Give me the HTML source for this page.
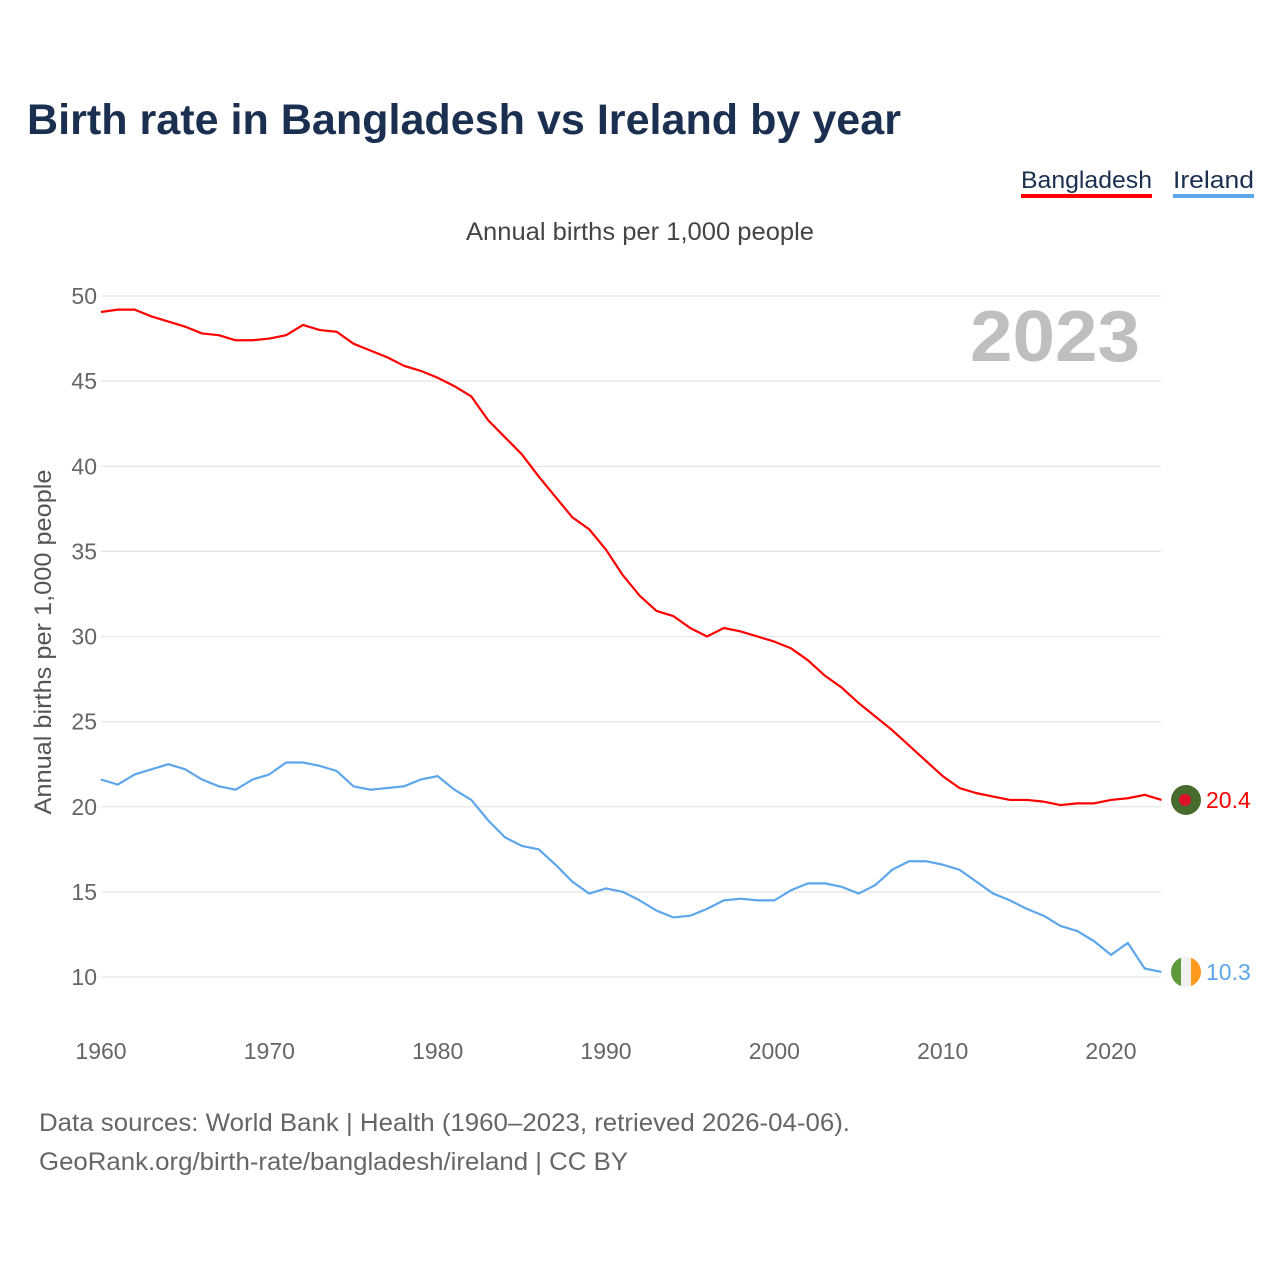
<!DOCTYPE html>
<html><head><meta charset="utf-8">
<style>
body{margin:0;background:#fff;}
svg text{font-family:"Liberation Sans",sans-serif;}
</style></head>
<body>
<svg id="chart" width="1280" height="1280" xmlns="http://www.w3.org/2000/svg">
<rect width="1280" height="1280" fill="#fff"/>
<text x="27" y="134" font-size="43" font-weight="bold" fill="#1b3050" textLength="874" lengthAdjust="spacingAndGlyphs">Birth rate in Bangladesh vs Ireland by year</text>
<g>
<text x="1021" y="188" font-size="24" fill="#1b3050" textLength="131" lengthAdjust="spacingAndGlyphs">Bangladesh</text>
<rect x="1021" y="194" width="131" height="4" fill="#ff0000"/>
<text x="1173" y="188" font-size="24" fill="#1b3050" textLength="81" lengthAdjust="spacingAndGlyphs">Ireland</text>
<rect x="1173" y="194" width="81" height="4" fill="#5da6ea"/>
</g>
<text x="640" y="240" font-size="25" fill="#444" text-anchor="middle" textLength="348" lengthAdjust="spacingAndGlyphs">Annual births per 1,000 people</text>
<text x="1140" y="361" font-size="72" font-weight="bold" fill="#bfbfbf" text-anchor="end" textLength="170" lengthAdjust="spacingAndGlyphs">2023</text>
<text transform="translate(51,642) rotate(-90)" font-size="24" fill="#555" text-anchor="middle" textLength="345" lengthAdjust="spacingAndGlyphs">Annual births per 1,000 people</text>
<g id="grid"></g><g id="series"></g><g id="labels"></g>
<text x="39" y="1131" font-size="25" fill="#666" textLength="811" lengthAdjust="spacingAndGlyphs">Data sources: World Bank | Health (1960–2023, retrieved 2026-04-06).</text>
<text x="39" y="1170" font-size="25" fill="#666" textLength="589" lengthAdjust="spacingAndGlyphs">GeoRank.org/birth-rate/bangladesh/ireland | CC BY</text>
</svg>
<script>
const years = [];for(let y=1960;y<=2023;y++)years.push(y);
const bangladesh=[49.06,49.2,49.2,48.8,48.5,48.2,47.8,47.7,47.4,47.4,47.5,47.7,48.3,48.0,47.9,47.2,46.8,46.4,45.9,45.6,45.2,44.7,44.1,42.7,41.7,40.7,39.4,38.2,37.0,36.3,35.1,33.6,32.4,31.5,31.2,30.5,30.0,30.5,30.3,30.0,29.7,29.3,28.6,27.7,27.0,26.1,25.3,24.5,23.6,22.7,21.8,21.1,20.8,20.6,20.4,20.4,20.3,20.1,20.2,20.2,20.4,20.5,20.7,20.4];
const ireland=[21.6,21.3,21.9,22.2,22.5,22.2,21.6,21.2,21.0,21.6,21.9,22.6,22.6,22.4,22.1,21.2,21.0,21.1,21.2,21.6,21.8,21.0,20.4,19.2,18.2,17.7,17.5,16.6,15.6,14.9,15.2,15.0,14.5,13.9,13.5,13.6,14.0,14.5,14.6,14.5,14.5,15.1,15.5,15.5,15.3,14.9,15.4,16.3,16.8,16.8,16.6,16.3,15.6,14.9,14.5,14.0,13.6,13.0,12.7,12.1,11.3,12.0,10.5,10.3];
const yTicks=[10,15,20,25,30,35,40,45,50];
const xTicks=[1960,1970,1980,1990,2000,2010,2020];
const NS="http://www.w3.org/2000/svg";
const xs=y=>101+(y-1960)*(1111-101)/60;
const ys=v=>977-(v-10)*(977-296)/40;
function mk(tag,attrs,parent){const e=document.createElementNS(NS,tag);for(const k in attrs)e.setAttribute(k,attrs[k]);parent.appendChild(e);return e;}
const grid=document.getElementById('grid'),ser=document.getElementById('series'),lab=document.getElementById('labels');
yTicks.forEach(t=>{
  const l=mk('line',{x1:101,x2:1161,y1:ys(t),y2:ys(t),stroke:'#e6e6e6','stroke-width':1.3},grid);
  
  
  const tx=mk('text',{x:97,y:ys(t)+8,'font-size':23,fill:'#666','text-anchor':'end'},grid);
  tx.textContent=t;
  
  
});
xTicks.forEach(t=>{
  const tx=mk('text',{x:xs(t),y:1059,'font-size':23,fill:'#666','text-anchor':'middle'},grid);
  tx.textContent=t;
  
  
});
function line(data,color,name){
  const p=mk('polyline',{points:data.map((v,i)=>xs(years[i])+','+ys(v)).join(' '),fill:'none',stroke:color,'stroke-width':2.2,'stroke-linejoin':'round'},ser);
  
  
}
line(bangladesh,'#ff0000','bangladesh-line');
line(ireland,'#5da6ea','ireland-line');
const lb=bangladesh[bangladesh.length-1],li=ireland[ireland.length-1];
const fx=1186;
const bf=mk('g',{},lab);


mk('circle',{cx:fx,cy:ys(lb),r:15,fill:'#466b2c'},bf);
mk('circle',{cx:fx-1,cy:ys(lb),r:6,fill:'#e0102a'},bf);
const bt=mk('text',{x:1206,y:ys(lb)+8,'font-size':23,fill:'#ff0000'},lab);
bt.textContent=lb.toFixed(1);


const iff=mk('g',{},lab);


const cp=mk('clipPath',{id:'ic'},iff);mk('circle',{cx:fx,cy:ys(li),r:15},cp);
mk('rect',{x:fx-15,y:ys(li)-15,width:10,height:30,fill:'#5e9a3c','clip-path':'url(#ic)'},iff);
mk('rect',{x:fx-5,y:ys(li)-15,width:10,height:30,fill:'#f0f0f0','clip-path':'url(#ic)'},iff);
mk('rect',{x:fx+5,y:ys(li)-15,width:10,height:30,fill:'#ff9a1e','clip-path':'url(#ic)'},iff);
const it=mk('text',{x:1206,y:ys(li)+8,'font-size':23,fill:'#5da6ea'},lab);
it.textContent=li.toFixed(1);


</script>
</body></html>
